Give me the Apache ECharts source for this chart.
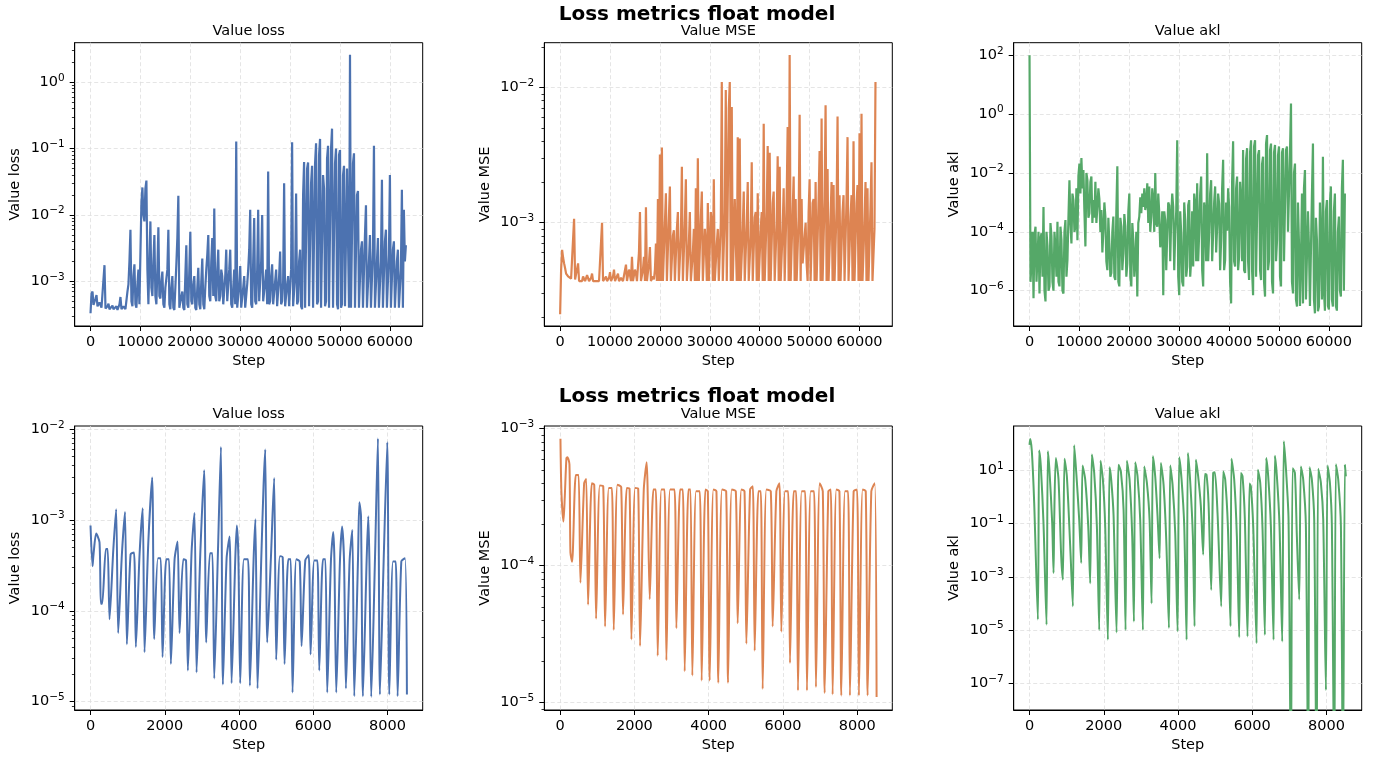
<!DOCTYPE html>
<html>
<head>
<meta charset="utf-8">
<script src="https://cdn.jsdelivr.net/npm/echarts@6/dist/echarts.min.js"></script>
<style>
  html, body { margin: 0; padding: 0; background: #fff; }
  #main { width: 1374px; height: 758px; }
</style>
</head>
<body>
<div id="main"></div>
<script>
// ---- top row: full run, logged every 200 steps (even / odd samples) ----
var topSteps = [0,400,800,1200,1600,2000,2400,2800,3200,3600,4000,4400,4800,5200,5600,6000,6400,6800,7200,7600,
  8000,8400,8800,9200,9600,10000,10400,10800,11200,11600,12000,12400,12800,13200,13600,14000,14400,14800,15200,15600,
  16000,16400,16800,17200,17600,18000,18400,18800,19200,19600,20000,20400,20800,21200,21600,22000,22400,22800,23200,23600,
  24000,24400,24800,25200,25600,26000,26400,26800,27200,27600,28000,28400,28800,29200,29600,30000,30400,30800,31200,31600,
  32000,32400,32800,33200,33600,34000,34400,34800,35200,35600,36000,36400,36800,37200,37600,38000,38400,38800,39200,39600,
  40000,40400,40800,41200,41600,42000,42400,42800,43200,43600,44000,44400,44800,45200,45600,46000,46400,46800,47200,47600,
  48000,48400,48800,49200,49600,50000,50400,50800,51200,51600,52000,52400,52800,53200,53600,54000,54400,54800,55200,55600,
  56000,56400,56800,57200,57600,58000,58400,58800,59200,59600,60000,60400,60800,61200,61600,62000,62400,62800,63200];
var topMidSteps = [200,600,1000,1400,1800,2200,2600,3000,3400,3800,4200,4600,5000,5400,5800,6200,6600,7000,7400,7800,
  8200,8600,9000,9400,9800,10200,10600,11000,11400,11800,12200,12600,13000,13400,13800,14200,14600,15000,15400,15800,
  16200,16600,17000,17400,17800,18200,18600,19000,19400,19800,20200,20600,21000,21400,21800,22200,22600,23000,23400,23800,
  24200,24600,25000,25400,25800,26200,26600,27000,27400,27800,28200,28600,29000,29400,29800,30200,30600,31000,31400,31800,
  32200,32600,33000,33400,33800,34200,34600,35000,35400,35800,36200,36600,37000,37400,37800,38200,38600,39000,39400,39800,
  40200,40600,41000,41400,41800,42200,42600,43000,43400,43800,44200,44600,45000,45400,45800,46200,46600,47000,47400,47800,
  48200,48600,49000,49400,49800,50200,50600,51000,51400,51800,52200,52600,53000,53400,53800,54200,54600,55000,55400,55800,
  56200,56600,57000,57400,57800,58200,58600,59000,59400,59800,60200,60600,61000,61400,61800,62200,62600,63000];

var topLoss = [3.3e-4,7e-4,4.6e-4,6.2e-4,4.2e-4,5e-4,4e-4,1.75e-3,3.8e-4,4.6e-4,
  3.7e-4,4.3e-4,3.7e-4,4.2e-4,3.7e-4,5.8e-4,3.8e-4,4.4e-4,3.9e-4,9e-4,
  6e-3,4.2e-4,1.8e-3,4e-4,1.5e-3,4.2e-4,2.6e-2,8e-3,3.3e-2,4.5e-4,
  8e-3,6e-4,5e-3,4.5e-4,6.5e-3,5.5e-4,1.4e-3,4e-4,1.1e-3,6e-3,
  3.8e-4,1.2e-3,3.7e-4,1.8e-3,1.95e-2,3.8e-4,7e-4,3.7e-4,3.5e-3,4e-4,
  5.6e-3,4.5e-4,1.2e-3,3.7e-4,1.6e-3,3.8e-4,2.2e-3,3.8e-4,1.5e-3,5e-3,
  5e-4,4.5e-3,1.25e-2,5e-4,3e-3,6e-4,1.2e-3,4.5e-4,3e-3,5e-4,
  3e-3,4e-4,1.5e-3,0.128,4e-4,1.7e-3,3.8e-4,1.2e-3,3.8e-4,1.5e-3,
  1.2e-2,4e-4,9e-3,4.5e-4,1.2e-2,5e-4,1e-2,5e-4,1.5e-3,4.5e-2,
  5e-4,1.8e-3,4.2e-4,1.5e-3,4e-4,2.8e-3,5e-4,3e-2,4.2e-4,1.2e-3,
  4e-4,0.125,4e-4,2.1e-2,5e-4,3e-3,3.8e-4,6.3e-2,4e-4,6.2e-2,
  4.5e-4,5.5e-2,3.8e-4,0.12,5e-4,0.14,4e-4,2.5e-2,5e-4,0.11,
  4e-4,0.2,4e-4,0.1,3.8e-4,9.5e-2,4.5e-4,5.5e-2,4e-4,5e-2,
  2.6,3.8e-4,8.5e-2,4e-4,2.3e-2,4e-4,4e-3,3.8e-4,1.4e-2,4e-4,
  5e-3,3.8e-4,0.11,4e-4,4.5e-3,3.8e-4,3.4e-2,4e-4,6e-3,3.8e-4,
  4e-2,4e-4,4e-3,3.8e-4,3e-3,3.8e-4,2.4e-2,1.2e-2,3.5e-3];
var topLossMid = [6.5e-4,4.4e-4,5.5e-4,4.2e-4,4.8e-4,4e-4,4.2e-4,3.9e-4,4.2e-4,3.8e-4,
  4e-4,3.8e-4,4e-4,3.7e-4,4.5e-4,3.8e-4,4.2e-4,3.8e-4,7e-4,2e-3,
  5e-4,1.2e-3,4.5e-4,9e-4,4.5e-4,1.5e-2,1e-2,2.5e-2,1.5e-3,2e-3,
  8e-4,2e-3,6e-4,1.5e-3,6e-4,1e-3,4.5e-4,8e-4,1.5e-3,4.5e-4,
  8e-4,4e-4,8e-4,4.5e-3,4e-4,6e-4,4e-4,1.2e-3,4.5e-4,1.5e-3,
  5e-4,9e-4,4e-4,8e-4,4.5e-4,1e-3,4.5e-4,8e-4,2.5e-3,6e-4,
  2e-3,6e-4,6e-4,1.5e-3,5e-4,1.5e-3,4.5e-4,1.2e-3,5e-4,1.5e-3,
  4.5e-4,8e-4,4.5e-4,4e-4,9e-4,4e-4,8e-4,4e-4,9e-4,3e-3,
  4.5e-4,2e-3,5e-4,1.5e-3,5e-4,2e-3,5e-4,1e-3,4.5e-4,4.5e-4,
  1.2e-3,4.5e-4,1e-3,4.2e-4,1.2e-3,4.5e-4,1e-3,4.2e-4,9e-4,4.2e-4,
  1.5e-3,4.2e-4,1.2e-3,4.5e-4,2e-3,4.2e-4,2e-2,4e-4,5e-2,4.2e-4,
  3e-2,4e-4,6e-2,4.5e-4,8e-2,4e-4,4e-2,4.2e-4,7e-2,4e-4,
  0.1,4e-4,6e-2,4.5e-4,8e-2,4e-4,4e-2,4.2e-4,5e-2,4e-4,
  4e-4,6e-2,4e-4,2e-2,4e-4,3e-3,4e-4,5e-3,4e-4,2e-3,
  4e-4,3e-3,4e-4,2e-3,4e-4,2e-3,4e-4,4e-3,4e-4,2.5e-3,
  4e-4,3e-3,4e-4,2e-3,4e-4,1.5e-3,4e-4,2e-3];

var topMse = [2.1e-4,6.3e-4,5e-4,4.2e-4,4e-4,3.9e-4,3.8e-4,1.07e-3,3.75e-4,5e-4,
  3.7e-4,3.7e-4,4.1e-4,3.7e-4,4.2e-4,3.7e-4,4.2e-4,3.7e-4,3.7e-4,3.7e-4,
  3.7e-4,1e-3,3.7e-4,4e-4,3.7e-4,4.3e-4,3.7e-4,4.5e-4,3.7e-4,4.2e-4,
  3.7e-4,4e-4,3.7e-4,4.9e-4,3.7e-4,4.1e-4,5.6e-4,3.7e-4,4.2e-4,3.7e-4,
  1.2e-3,3.7e-4,5.6e-4,1.3e-3,3.7e-4,6.6e-4,3.7e-4,3.8e-4,7e-4,1.5e-3,
  3.2e-3,3.6e-3,3.7e-4,1.65e-3,3.7e-4,1.85e-3,3.7e-4,8.8e-4,3.7e-4,1.2e-3,
  3.7e-4,2.6e-3,3.7e-4,2.1e-3,3.7e-4,1.2e-3,3.7e-4,9e-4,1.8e-3,3e-3,
  3.7e-4,1.7e-3,3.7e-4,6.8e-4,1.4e-3,3.7e-4,1e-3,2.1e-3,3.7e-4,9e-4,
  3.7e-4,1.1e-2,3.7e-4,9.6e-3,3.7e-4,1.1e-2,7.2e-3,3.7e-4,1.5e-3,4.3e-3,
  4.2e-3,3.7e-4,1.7e-3,3.7e-4,2e-3,3.7e-4,2.8e-3,3.7e-4,1.2e-3,1.65e-3,
  3.7e-4,1.2e-3,5.4e-3,3.7e-4,3.7e-3,3.3e-3,3.7e-4,1.7e-3,3.7e-4,3.1e-3,
  2.6e-3,3.7e-4,1.8e-3,3.7e-4,5.1e-3,1.74e-2,3.7e-4,2.2e-3,1.5e-3,3.7e-4,
  6.3e-3,1.5e-3,5e-4,1e-3,3.7e-4,2.1e-3,3.7e-4,1.5e-3,2e-3,3.7e-4,
  3.4e-3,5.9e-3,3.7e-4,7.4e-3,2.5e-3,3.7e-4,2e-3,1.9e-3,3.7e-4,6.1e-3,
  1.6e-3,3.7e-4,1.6e-3,3.7e-4,4.3e-3,3.7e-4,1.6e-3,4e-3,3.7e-4,1.9e-3,
  4.6e-3,6.4e-3,3.7e-4,2e-3,1.8e-3,3.7e-4,2.8e-3,3.7e-4,1.1e-2];
var topMseMid = [4.5e-4,5.5e-4,4.6e-4,4.1e-4,3.95e-4,3.85e-4,3.8e-4,3.8e-4,3.75e-4,3.7e-4,
  3.7e-4,4e-4,3.7e-4,4.1e-4,3.7e-4,3.9e-4,3.7e-4,3.7e-4,3.7e-4,3.7e-4,
  3.7e-4,3.7e-4,3.7e-4,3.7e-4,3.9e-4,3.7e-4,4e-4,3.7e-4,3.7e-4,3.7e-4,
  3.9e-4,3.7e-4,3.7e-4,3.7e-4,4.5e-4,3.7e-4,3.7e-4,4.5e-4,3.7e-4,6e-4,
  3.7e-4,4.5e-4,3.7e-4,3.7e-4,5e-4,3.7e-4,4e-4,4.5e-4,3.7e-4,3.7e-4,
  3.7e-4,3.7e-4,1e-3,3.7e-4,1.1e-3,3.7e-4,8e-4,3.7e-4,9e-4,3.7e-4,
  8e-4,3.7e-4,1e-3,3.7e-4,7e-4,3.7e-4,6e-4,3.7e-4,3.7e-4,3.7e-4,
  1.1e-3,3.7e-4,9e-4,3.7e-4,3.7e-4,1.2e-3,3.7e-4,3.7e-4,7e-4,3.7e-4,
  1e-3,3.7e-4,1.2e-3,3.7e-4,7e-3,3.7e-4,3.7e-4,1.5e-3,3.7e-4,3.7e-4,
  3.7e-4,9e-4,3.7e-4,1e-3,3.7e-4,8e-4,3.7e-4,1.1e-3,3.7e-4,3.7e-4,
  9e-4,3.7e-4,3.7e-4,1.2e-3,3.7e-4,3.7e-4,1.4e-3,3.7e-4,1e-3,3.7e-4,
  3.7e-4,9e-4,3.7e-4,1.5e-3,3.7e-4,3.7e-4,1.2e-3,3.7e-4,3.7e-4,1.1e-3,
  3.7e-4,5e-4,8e-4,5e-4,1.2e-3,3.7e-4,1.4e-3,3.7e-4,3.7e-4,1.5e-3,
  3.7e-4,3.7e-4,1.5e-3,3.7e-4,3.7e-4,1.1e-3,3.7e-4,3.7e-4,1.3e-3,3.7e-4,
  3.7e-4,1.2e-3,3.7e-4,1.5e-3,3.7e-4,1.1e-3,3.7e-4,3.7e-4,1.4e-3,3.7e-4,
  3.7e-4,3.7e-4,1e-3,3.7e-4,3.7e-4,1.3e-3,3.7e-4,9e-4];

var topAkl = [100,8.5e-6,5.5e-7,1.5e-4,1.4e-5,8e-7,9e-5,7e-4,4.3e-7,3.2e-5,
  1.4e-6,7e-5,1e-6,2.8e-5,2.2e-4,1.4e-6,5.2e-5,8e-7,2.5e-4,1.1e-5,
  5.7e-3,4e-5,1.2e-3,1.5e-4,5.2e-5,0.021,0.032,0.0126,3.2e-5,5.7e-3,
  4.3e-4,7.6e-3,1.2e-3,5e-3,7e-4,1.3e-3,5.5e-4,1.1e-4,3.3e-4,5e-6,
  4e-5,4e-6,3.3e-4,2.3e-6,0.017,1.4e-6,1.5e-4,1.9e-5,1.5e-4,8.5e-6,
  2e-3,1.4e-6,5.2e-5,1.1e-5,6.3e-7,3.3e-4,4.3e-4,7e-4,5.5e-4,4.5e-3,
  3.5e-3,3.3e-4,1.2e-3,0.01,1.5e-4,4.3e-4,5.2e-5,7e-7,2.5e-4,9e-5,
  8e-4,3.3e-4,7e-4,9e-5,0.13,7e-7,9e-5,1.4e-6,2.5e-4,6.6e-6,
  1.2e-3,1.1e-5,6.6e-6,9e-4,4.5e-3,9e-5,7.6e-3,1.4e-6,4.3e-4,0.047,
  9e-5,5.7e-3,9e-5,3.5e-3,1.5e-4,9e-4,5.2e-5,0.028,1.1e-5,1.1e-4,
  7e-4,3.7e-7,0.12,6.6e-6,7.6e-3,1.4e-5,1.2e-3,0.06,4e-6,0.07,
  2.3e-6,0.13,7e-7,0.13,2.8e-6,0.06,2.3e-6,0.036,6.3e-7,0.195,
  1.1e-5,0.1,8e-7,0.09,5.2e-5,0.08,1.4e-6,0.07,1.1e-5,0.08,
  9e-5,2.3,8e-7,0.021,2.9e-7,4e-5,1.1e-5,3.7e-7,0.0126,4.7e-7,
  3.2e-5,2.9e-7,0.1,1.7e-7,5.2e-5,2.9e-7,3.2e-5,0.036,2.1e-7,1.2e-3,
  2.3e-7,3.5e-3,2.9e-7,2e-3,2.1e-7,3.3e-4,6.3e-7,0.028,2e-3];
var topAklMid = [2e-6,1e-4,8e-5,2e-6,1e-4,6e-5,3e-6,1e-6,1e-4,1e-6,
  2e-4,2e-6,1e-4,3e-6,2e-6,1.5e-4,1e-6,1e-4,3e-6,3e-4,
  2e-4,2e-3,1e-4,3e-3,8e-3,2e-3,3e-3,5e-4,1e-2,3e-4,
  5e-3,2e-4,3e-4,2e-4,3e-3,1e-4,2e-5,1e-3,1e-5,3e-4,
  3e-6,1e-4,3e-6,5e-4,2e-6,3e-4,5e-6,4e-4,3e-6,5e-4,
  3e-6,2e-4,3e-6,1e-4,2e-4,1.5e-3,2e-3,3e-3,1e-3,2e-4,
  1e-4,3e-3,1e-4,2e-4,2e-3,3e-5,5e-4,5e-4,5e-6,1e-3,
  1e-5,2e-3,5e-6,5e-4,3e-6,5e-4,2e-6,1e-3,3e-6,8e-4,
  3e-6,5e-4,2e-3,1e-5,1e-5,2e-3,5e-6,1e-3,1e-5,1e-5,
  2e-3,1e-5,1e-3,2e-5,2e-3,5e-6,3e-3,5e-6,1e-3,3e-3,
  2e-6,5e-3,1e-5,3e-3,5e-6,5e-3,1e-5,5e-6,0.03,1e-5,
  0.05,5e-6,0.08,3e-6,0.04,5e-6,0.02,2e-6,0.1,5e-6,
  0.06,2e-6,0.05,1e-5,0.04,3e-6,0.05,1e-5,0.06,1e-4,
  0.05,2e-6,0.01,5e-7,1e-3,3e-7,2e-3,3e-3,5e-7,5e-4,
  3e-7,2e-3,5e-7,3e-4,2e-7,1e-3,5e-7,1e-6,5e-4,3e-7,
  1e-3,5e-7,5e-4,3e-7,1e-4,1e-6,3e-3,1e-6];

// ---- bottom row: first 8.5k steps ----
var lossSteps = [0,54,81,153,242,278,314,414,462,512,612,690,745,845,929,979,1079,1171,1221,1321,
  1405,1455,1555,1660,1715,1815,1890,1940,2040,2114,2164,2264,2345,2398,2498,2572,2622,2722,2800,2856,
  2956,3060,3116,3216,3282,3332,3432,3512,3565,3665,3745,3799,3899,3940,3982,4032,4132,4242,4292,4392,
  4440,4498,4598,4660,4705,4759,4859,4945,5001,5101,5176,5226,5326,5391,5441,5541,5634,5684,5784,5876,
  5926,6026,6110,6160,6260,6325,6375,6475,6537,6568,6618,6718,6775,6828,6878,6978,7050,7103,7203,7240,
  7284,7336,7436,7480,7510,7560,7660,7740,7794,7894,7992,8046,8146,8220,8270,8370,8470,8521];
var lossVals = [8.7e-4,3.1e-4,4.2e-4,7.1e-4,5.7e-4,1.2e-4,1.2e-4,4.8e-4,4.8e-4,8.1e-5,4.6e-4,1.32e-3,5.7e-5,4.2e-4,1.23e-3,4.3e-5,4.2e-4,4.4e-4,4e-5,4.2e-4,
  1.35e-3,3.5e-5,5.5e-4,2.95e-3,4.9e-5,3.8e-4,3.8e-4,3.1e-5,3.7e-4,3.7e-4,2.6e-5,3.7e-4,5.8e-4,5.7e-5,3.7e-4,3.6e-4,2.2e-5,4.5e-4,1.2e-3,2.1e-5,
  4.2e-4,3.55e-3,4.5e-5,4.3e-4,4.3e-4,1.8e-5,4.5e-4,6.4e-3,1.55e-5,3.8e-4,6.6e-4,1.6e-5,3.8e-4,8.7e-4,4e-4,1.6e-5,3.7e-4,3.7e-4,1.5e-5,3.7e-4,
  1.02e-3,1.4e-5,3.7e-4,2.4e-3,6e-3,4.5e-5,3.9e-4,2.9e-3,2.9e-5,4e-4,3.9e-4,2.6e-5,3.7e-4,3.7e-4,1.26e-5,3.7e-4,3.5e-4,4.1e-5,3.6e-4,4.1e-4,
  3.3e-5,3.6e-4,3.6e-4,2.2e-5,3.7e-4,3.7e-4,1.26e-5,3.6e-4,7.4e-4,3.7e-4,1.26e-5,3.6e-4,8.5e-4,3.5e-4,1.4e-5,3.6e-4,7.8e-4,1.15e-5,3.6e-4,1.57e-3,
  1.1e-3,1.15e-5,3.6e-4,1.1e-3,3.7e-4,1.13e-5,3.6e-4,7.9e-3,1.2e-5,3.5e-4,7.2e-3,1.2e-5,3.5e-4,3.5e-4,1.15e-5,3.5e-4,3.8e-4,1.2e-5];

var mseSteps = [9,36,90,126,170,197,251,278,323,423,497,547,647,703,753,853,919,969,1069,1161,
  1211,1311,1394,1444,1544,1645,1695,1795,1870,1920,2020,2103,2153,2253,2330,2413,2513,2578,2628,2728,
  2812,2862,2962,3081,3131,3231,3305,3355,3455,3511,3561,3661,3762,3812,3912,3978,4028,4128,4210,4260,
  4360,4472,4522,4622,4732,4782,4882,4966,5016,5116,5190,5240,5340,5405,5455,5555,5674,5724,5824,5907,
  5957,6057,6141,6191,6291,6356,6406,6506,6598,6648,6748,6840,6890,6990,7074,7124,7224,7289,7339,7439,
  7522,7572,7672,7755,7805,7905,7997,8047,8147,8231,8281,8381,8473,8523];
var mseVals = [8.45e-4,3.4e-4,2.1e-4,3.2e-4,6.1e-4,6.2e-4,5.5e-4,1.25e-4,1.07e-4,4.6e-4,4.6e-4,7.5e-5,4e-4,4.3e-4,5.2e-5,4e-4,3.9e-4,4.1e-5,3.85e-4,3.8e-4,
  3.6e-5,3.7e-4,3.7e-4,3.4e-5,3.9e-4,3.75e-4,4.4e-5,3.7e-4,3.65e-4,2.9e-5,3.7e-4,3.65e-4,2.6e-5,3.6e-4,5.7e-4,5.7e-5,3.6e-4,3.6e-4,2.2e-5,3.6e-4,
  3.6e-4,2.04e-5,3.6e-4,3.6e-4,3.5e-5,3.6e-4,3.6e-4,1.7e-5,3.6e-4,3.6e-4,1.58e-5,3.5e-4,3.5e-4,1.45e-5,3.6e-4,3.5e-4,1.45e-5,3.6e-4,3.5e-4,1.4e-5,
  3.6e-4,3.5e-4,1.4e-5,3.6e-4,3.5e-4,3.8e-5,3.6e-4,3.5e-4,2.7e-5,3.6e-4,3.8e-4,2.4e-5,3.5e-4,3.5e-4,1.26e-5,3.6e-4,3.5e-4,3.6e-5,3.5e-4,4e-4,
  3.3e-5,3.5e-4,3.5e-4,1.95e-5,3.5e-4,3.5e-4,1.23e-5,3.5e-4,3.5e-4,1.23e-5,3.5e-4,3.5e-4,1.3e-5,4e-4,3.5e-4,1.18e-5,3.5e-4,3.6e-4,1.15e-5,3.6e-4,
  3.5e-4,1.13e-5,3.5e-4,3.5e-4,1.13e-5,3.5e-4,3.6e-4,1.13e-5,3.6e-4,3.5e-4,1.13e-5,3.5e-4,4e-4,1.1e-5];

var aklSteps = [0,18,63,126,225,260,305,377,458,494,539,611,647,665,709,781,853,898,943,1006,
  1096,1167,1203,1257,1338,1392,1428,1500,1581,1634,1679,1742,1814,1877,1913,1976,2038,2110,2155,2200,
  2263,2344,2398,2461,2533,2586,2622,2694,2766,2811,2847,2909,2981,3053,3089,3161,3233,3287,3322,3385,
  3448,3502,3538,3610,3682,3754,3790,3852,3924,3987,4032,4095,4167,4230,4266,4327,4399,4444,4480,4542,
  4614,4677,4722,4767,4821,4893,4946,4991,5063,5162,5216,5270,5342,5413,5440,5512,5584,5647,5692,5737,
  5800,5871,5925,5961,6024,6114,6150,6213,6276,6338,6374,6428,6500,6572,6608,6662,6733,6805,6850,6913,
  6976,7040,7084,7147,7200,7263,7308,7371,7443,7506,7542,7604,7667,7730,7775,7847,7910,7982,8027,8090,
  8143,8206,8251,8314,8386,8440,8493,8520];
var aklVals = [90,150,52,0.59,2.5e-5,56,14,0.1,1.6e-5,52,9,0.1,1.4e-3,0.14,29,4.5,5.9e-3,7.8e-4,27,5.9,
  0.014,7.8e-5,87,9,0.14,3.3e-3,15,4.5,0.08,5.7e-4,39,8,0.08,1e-5,23,4.5,0.08,4.3e-6,13,4.5,
  0.21,8.1e-6,16,9,0.33,1e-5,23,4.5,0.033,2.1e-5,20,5.9,0.14,1e-5,14,3.4,0.14,1e-4,34,5.9,
  0.19,5e-3,19,2.9,0.025,1.2e-5,15,2.9,0.044,9e-6,31,4.5,0.08,4.3e-6,45,3.9,0.033,1.4e-5,25,5.9,
  0.45,6.8e-3,7.3,6.8,0.59,3.2e-4,8,8.5,0.25,7.8e-5,9,4.5,0.08,1.4e-5,27,4.5,0.033,5.4e-6,8,5.9,
  0.14,5.8e-6,3.2,2.5,0.08,3.2e-6,10.6,3.4,0.059,6.6e-6,29,5.9,0.08,4.3e-6,35,5.9,0.08,3.7e-6,123,8,
  0.14,1e-11,12,8,0.033,1.4e-4,14,4.5,0.08,1e-11,13,4.5,0.14,1e-11,11.5,3.4,0.14,5.6e-8,15,3.4,
  0.08,1e-11,17,4.5,0.08,1e-11,16,5.9];

// axis ticks
var topStepTicks = [0, 10000, 20000, 30000, 40000, 50000, 60000];
var bottomStepTicks = [0, 2000, 4000, 6000, 8000];

var FONT = 'DejaVu Sans';
var BLUE = '#4c72b0', ORANGE = '#dd8452', GREEN = '#55a868';

function pairs(xs, ys) {
  return xs.map(function (x, i) { return [x, ys[i]]; });
}

// merge the even and odd samples back into one step-ordered series
function merged(xa, ya, xb, yb) {
  return pairs(xa, ya).concat(pairs(xb, yb)).sort(function (a, b) { return a[0] - b[0]; });
}

function minorTicks(lo, hi) {
  var out = [];
  for (var e = Math.floor(Math.log10(lo)); e <= Math.ceil(Math.log10(hi)); e++) {
    for (var m = 2; m <= 9; m++) {
      var v = m * Math.pow(10, e);
      if (v > lo && v < hi) out.push(v);
    }
  }
  return out;
}

function powLabel(v) {
  var e = Math.round(Math.log10(v));
  var s = e < 0 ? '\u2212' + (-e) : String(e);
  return '{b|10}{e|' + s + '}';
}

var cols = [74.7, 544.3, 1013.7];
var rows = [{ top: 42.7, height: 283.3 }, { top: 426, height: 284 }];

var panels = [
  { row: 0, col: 0, title: 'Value loss', color: BLUE,
    data: merged(topSteps, topLoss, topMidSteps, topLossMid), xmin: -3170, xmax: 66570, xticks: topStepTicks,
    ymin: 2.12e-4, ymax: 3.95, yticks: [1e-3, 1e-2, 1e-1, 1], minor: true, dense: true },
  { row: 0, col: 1, title: 'Value MSE', color: ORANGE,
    data: merged(topSteps, topMse, topMidSteps, topMseMid), xmin: -3170, xmax: 66570, xticks: topStepTicks,
    ymin: 1.72e-4, ymax: 0.0215, yticks: [1e-3, 1e-2], minor: true, dense: true },
  { row: 0, col: 2, title: 'Value akl', color: GREEN,
    data: merged(topSteps, topAkl, topMidSteps, topAklMid), xmin: -3170, xmax: 66570, xticks: topStepTicks,
    ymin: 6.3e-8, ymax: 269, yticks: [1e-6, 1e-4, 1e-2, 1, 100], minor: false, dense: true },
  { row: 1, col: 0, title: 'Value loss', color: BLUE,
    data: pairs(lossSteps, lossVals), xmin: -426, xmax: 8946, xticks: bottomStepTicks,
    ymin: 8.1e-6, ymax: 0.01087, yticks: [1e-5, 1e-4, 1e-3, 1e-2], minor: true },
  { row: 1, col: 1, title: 'Value MSE', color: ORANGE,
    data: pairs(mseSteps, mseVals), xmin: -426, xmax: 8946, xticks: bottomStepTicks,
    ymin: 8.85e-6, ymax: 1.047e-3, yticks: [1e-5, 1e-4, 1e-3], minor: true },
  { row: 1, col: 2, title: 'Value akl', color: GREEN,
    data: pairs(aklSteps, aklVals), xmin: -426, xmax: 8946, xticks: bottomStepTicks,
    ymin: 1e-8, ymax: 461, yticks: [1e-7, 1e-5, 1e-3, 1e-1, 10], minor: false }
];

var splitStyle = { show: true, lineStyle: { color: '#dedede', width: 0.8, type: [4, 2.5] } };

var grids = [], xAxes = [], yAxes = [], minorAxes = [], series = [];
var titles = [
  { text: 'Loss metrics float model', left: 697, top: 5, textAlign: 'center', padding: 0,
    textStyle: { fontFamily: FONT, fontSize: 20, fontWeight: 'bold', color: '#000' } },
  { text: 'Loss metrics float model', left: 697, top: 387, textAlign: 'center', padding: 0,
    textStyle: { fontFamily: FONT, fontSize: 20, fontWeight: 'bold', color: '#000' } }
];

panels.forEach(function (p, k) {
  var left = cols[p.col], r = rows[p.row];
  grids.push({ left: left, top: r.top, width: 348, height: r.height,
    show: true, borderColor: '#000', borderWidth: 1, backgroundColor: 'transparent' });
  titles.push({ text: p.title, left: left + 174, top: r.top - 19, textAlign: 'center', padding: 0,
    textStyle: { fontFamily: FONT, fontSize: 14.5, fontWeight: 'normal', color: '#000' } });
  xAxes.push({
    gridIndex: k, type: 'value', min: p.xmin, max: p.xmax,
    name: 'Step', nameLocation: 'middle', nameGap: 28,
    nameTextStyle: { fontFamily: FONT, fontSize: 14.5, color: '#000' },
    axisLine: { show: true, onZero: false, lineStyle: { color: '#000', width: 1 } },
    axisTick: { show: true, length: 5, customValues: p.xticks, lineStyle: { color: '#000', width: 1 } },
    axisLabel: { customValues: p.xticks, margin: 9, fontFamily: FONT, fontSize: 14.5, color: '#000',
      formatter: function (v) { return String(v); } },
    splitLine: splitStyle
  });
  yAxes.push({
    gridIndex: k, type: 'log', logBase: 10, min: p.ymin, max: p.ymax,
    name: p.title, nameLocation: 'middle', nameGap: 52,
    nameTextStyle: { fontFamily: FONT, fontSize: 14.5, color: '#000' },
    axisLine: { show: true, onZero: false, lineStyle: { color: '#000', width: 1 } },
    axisTick: { show: true, length: 5, customValues: p.yticks, lineStyle: { color: '#000', width: 1 } },
    axisLabel: { customValues: p.yticks, margin: 10, formatter: powLabel,
      rich: {
        b: { fontFamily: FONT, fontSize: 14.5, color: '#000', lineHeight: 20 },
        e: { fontFamily: FONT, fontSize: 10.5, color: '#000', lineHeight: 12, verticalAlign: 'top' }
      } },
    splitLine: splitStyle
  });
  if (p.minor) {
    minorAxes.push({
      gridIndex: k, type: 'log', logBase: 10, min: p.ymin, max: p.ymax, position: 'left',
      axisLine: { show: false, onZero: false },
      axisTick: { show: true, length: 2.8, customValues: minorTicks(p.ymin, p.ymax),
        lineStyle: { color: '#000', width: 0.8 } },
      axisLabel: { show: false },
      splitLine: { show: false }
    });
  }
  series.push({
    type: 'line', xAxisIndex: k, yAxisIndex: k,
    data: p.data,
    symbol: 'none', showSymbol: false, silent: true, clip: true,
    smooth: p.dense ? false : 0.25,
    lineStyle: { color: p.color, width: p.dense ? 2.2 : 2 },
    itemStyle: { color: p.color }
  });
});

var chart = echarts.init(document.getElementById('main'), null, { renderer: 'canvas' });
chart.setOption({
  animation: false,
  backgroundColor: '#fff',
  title: titles,
  grid: grids,
  xAxis: xAxes,
  yAxis: yAxes.concat(minorAxes),
  series: series
});
</script>
</body>
</html>
